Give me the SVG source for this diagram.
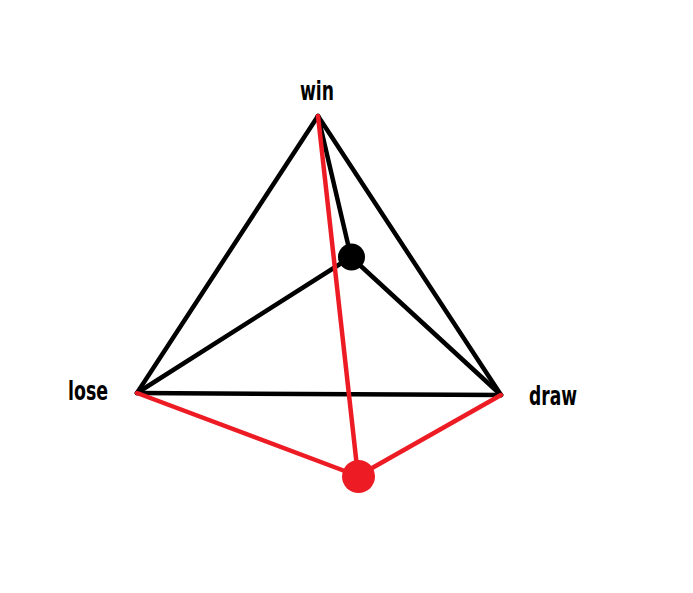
<svg xmlns="http://www.w3.org/2000/svg" width="693" height="593" viewBox="0 0 693 593">
<style>
.k{stroke:#000;stroke-width:4.5;fill:none;stroke-linecap:round}
.r{stroke:#ed1c24;stroke-width:4.5;fill:none;stroke-linecap:round}
.t{font-family:"DejaVu Sans Condensed","DejaVu Sans",sans-serif;font-weight:bold;font-size:26px;fill:#000}
</style>
<rect width="693" height="593" fill="#fff"/>
<g id="connectors">
<line class="k" x1="318" y1="116" x2="137" y2="393"/>
<line class="k" x1="318" y1="116" x2="501" y2="395"/>
<line class="k" x1="137" y1="393" x2="501" y2="395"/>
<line class="k" x1="318" y1="116" x2="351" y2="257"/>
<line class="k" x1="137" y1="393" x2="351" y2="257"/>
<line class="k" x1="501" y1="395" x2="351" y2="257"/>
<line class="r" x1="318" y1="116" x2="358" y2="476"/>
<line class="r" x1="137" y1="393" x2="358" y2="476"/>
<line class="r" x1="501" y1="395" x2="358" y2="476"/>
</g>
<g id="win"><text class="t" x="300" y="100" textLength="34" lengthAdjust="spacingAndGlyphs">win</text></g>
<g id="lose"><text class="t" x="68" y="400" textLength="40" lengthAdjust="spacingAndGlyphs">lose</text></g>
<g id="draw"><text class="t" x="529" y="405" textLength="48" lengthAdjust="spacingAndGlyphs">draw</text></g>
<g id="point-black"><circle cx="351.5" cy="257" r="13.5" fill="#000"/></g>
<g id="point-red"><circle cx="358.5" cy="476.5" r="16.5" fill="#ed1c24"/></g>
</svg>
